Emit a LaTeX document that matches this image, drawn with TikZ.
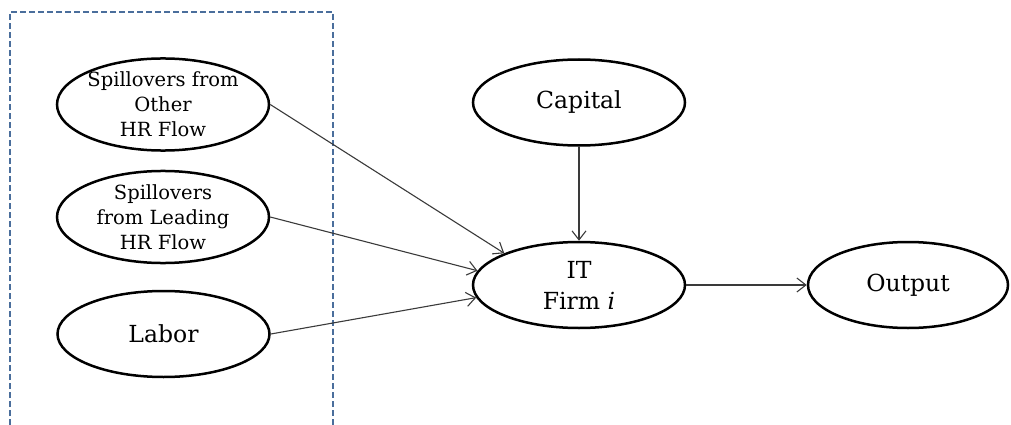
\documentclass[tikz,border=0pt]{standalone}
\usepackage{fontspec}
\setmainfont{DejaVu Serif}
\usetikzlibrary{shapes.geometric,arrows.meta}
\definecolor{framecol}{HTML}{4A6E9C}
\definecolor{linkcol}{HTML}{3A3A3A}
\tikzset{
  oval/.style={ellipse, draw=black, line width=2.5pt, inner sep=0pt,
    minimum width=212pt, minimum height=86pt, align=center,
    font=\fontsize{23.5}{31}\selectfont},
  smalloval/.style={oval, inner xsep=-6pt, font=\fontsize{19.5}{25}\selectfont},
  link/.style={draw=linkcol, line width=1.1pt,
    -{Straight Barb[length=9pt,width=14pt,line width=1.1pt]}},
  frame/.style={draw=framecol, line width=1.2pt, dash pattern=on 6pt off 3pt}
}
\begin{document}
\begin{tikzpicture}[x=1pt,y=-1pt]
\useasboundingbox (0,0) rectangle (1011,425);
% group frame, open at the bottom
\draw[frame] (10,425) -- (10,12) -- (333,12) -- (333,425);
% inputs
\node[smalloval] (other) at (163,104.5) {Spillovers from\\Other\\HR Flow};
\node[smalloval] (leading) at (163,217) {Spillovers\\from Leading\\HR Flow};
\node[oval] (labor) at (163.5,334) {Labor};
\node[oval] (capital) at (579,102.5) {Capital};
% firm and output
\node[oval] (firm) at (579,285) {IT\\Firm \textit{i}};
\node[oval, minimum width=200pt] (output) at (908,285) {Output};
% links
\draw[link] (other.east) -- (firm.157.6);
\draw[link] (leading.east) -- (firm.172.3);
\draw[link] (labor.east) -- (firm.187.2);
\draw[link] (capital.south) -- (firm.north);
\draw[link] (firm.east) -- (output.west);
\end{tikzpicture}
\end{document}
